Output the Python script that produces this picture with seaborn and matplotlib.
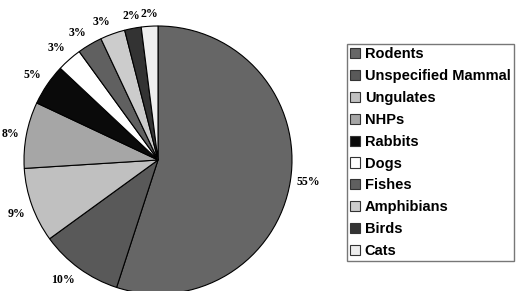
import numpy as np
import matplotlib.pyplot as plt
import seaborn as sns

# Data
animals = ['Rodents', 'Unspecified Mammal', 'Ungulates', 'NHPs', 'Rabbits',
           'Dogs', 'Fishes', 'Amphibians', 'Birds', 'Cats']
shares = [55, 10, 9, 8, 5, 3, 3, 3, 2, 2]
colors = ['#666666', '#595959', '#c0c0c0', '#a6a6a6', '#0a0a0a',
          '#ffffff', '#606060', '#cccccc', '#333333', '#eeeeee']

sns.set_style('white')

fig = plt.figure(figsize=(5.16, 2.91), dpi=100)
ax = fig.add_axes([24 / 516, -3 / 291, 268 / 516, 268 / 291])

wedges, texts, autotexts = ax.pie(
    shares, colors=colors, startangle=90, counterclock=False,
    autopct='%1.0f%%', pctdistance=1.05,
    wedgeprops={'edgecolor': 'black', 'linewidth': 0.8},
    textprops={'family': 'Liberation Serif', 'fontweight': 'bold',
               'fontsize': 8.5, 'color': 'black'})
ax.set_aspect('equal')
ax.set_xlim(-1, 1)
ax.set_ylim(-1, 1)

# anchor each percentage label on the side nearest the pie, like Excel does
for w, t in zip(wedges, autotexts):
    ang = np.deg2rad((w.theta1 + w.theta2) / 2)
    c, s = np.cos(ang), np.sin(ang)
    t.set_ha('left' if c > 0.3 else 'right' if c < -0.3 else 'center')
    t.set_va('bottom' if s > 0.3 else 'top' if s < -0.3 else 'center')

leg = fig.legend(wedges, animals, loc='upper left',
                 bbox_to_anchor=(347 / 516, 1 - 44 / 291),
                 borderaxespad=0, fancybox=False, frameon=True,
                 handlelength=0.7, handleheight=0.7, handletextpad=0.3,
                 labelspacing=0.54, borderpad=0.22, labelcolor='black',
                 prop={'family': 'Liberation Sans', 'weight': 'bold', 'size': 10.5})
leg.get_frame().set_edgecolor('#555555')
leg.get_frame().set_linewidth(1.0)
for h in leg.legend_handles:
    h.set_edgecolor('#333333')
    h.set_linewidth(0.8)

fig.savefig('out.png', dpi=100)
